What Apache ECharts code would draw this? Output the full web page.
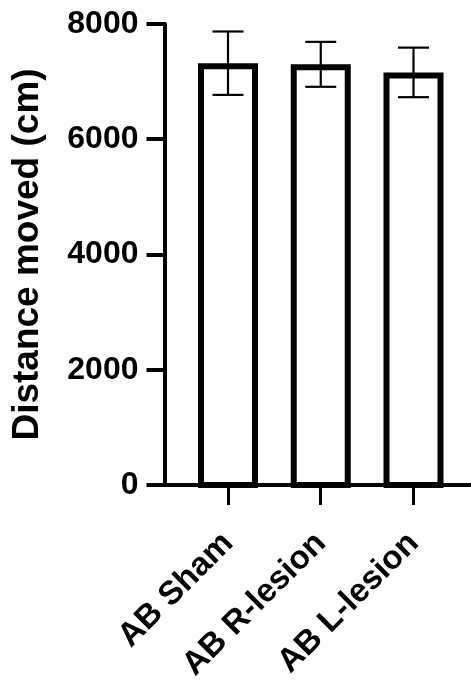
<!DOCTYPE html>
<html>
<head>
<meta charset="utf-8">
<script src="https://cdn.jsdelivr.net/npm/echarts@6/dist/echarts.min.js"></script>
<style>
  html, body { margin: 0; padding: 0; background: #ffffff; }
  #chart { width: 471px; height: 684px; }
</style>
</head>
<body>
<div id="chart"></div>
<script>
// Group labels, mean distance and SD per group
const categories = ['AB Sham', 'AB R-lesion', 'AB L-lesion'];
const means = [7320, 7300, 7160];
const sds = [550, 390, 430];
const yTicks = [0, 2000, 4000, 6000, 8000];
const yTitle = 'Distance moved (cm)';

const FONT = '"Liberation Sans", Arial, Helvetica, sans-serif';
const BAR_W = 60;      // outer bar width, px
const BORDER = 6;      // bar outline thickness, px
const CAP = 31;        // error bar cap width, px

const positions = categories.map((_, i) => i + 1);
const barData = positions.map((p, i) => [p, means[i]]);
const errData = positions.map((p, i) => [p, means[i] - sds[i], means[i] + sds[i]]);

const chart = echarts.init(document.getElementById('chart'), null, { renderer: 'canvas' });

chart.setOption({
  backgroundColor: '#ffffff',
  animation: false,
  grid: { left: 164.5, right: 0, top: 24, bottom: 199 },
  xAxis: {
    type: 'value',
    min: 0.3154,
    max: 3.62,
    splitLine: { show: false },
    axisLine: { show: true, onZero: false, lineStyle: { color: '#000', width: 4 } },
    axisTick: {
      show: true, customValues: positions, length: 20, inside: false,
      lineStyle: { color: '#000', width: 3 }
    },
    axisLabel: {
      show: true, customValues: positions, rotate: 45, margin: 53,
      formatter: v => categories[Math.round(v) - 1] || '',
      color: '#000', fontFamily: FONT, fontWeight: 'bold', fontSize: 33
    }
  },
  yAxis: {
    type: 'value',
    min: yTicks[0],
    max: yTicks[yTicks.length - 1],
    interval: 2000,
    name: yTitle,
    nameLocation: 'middle',
    nameRotate: 90,
    nameGap: 118,
    nameTextStyle: { color: '#000', fontFamily: FONT, fontWeight: 'bold', fontSize: 37 },
    splitLine: { show: false },
    axisLine: { show: true, lineStyle: { color: '#000', width: 4 } },
    axisTick: { show: true, length: 18, lineStyle: { color: '#000', width: 4 } },
    axisLabel: {
      margin: 26, color: '#000', fontFamily: FONT, fontWeight: 'bold', fontSize: 32,
      formatter: v => String(v)
    }
  },
  series: [
    {
      // open bars: outline drawn inside the bar footprint
      type: 'custom',
      data: barData,
      z: 2,
      renderItem: (params, api) => {
        const x = api.value(0);
        const top = api.coord([x, api.value(1)]);
        const base = api.coord([x, 0]);
        const h = BORDER / 2;
        return {
          type: 'rect',
          shape: {
            x: top[0] - BAR_W / 2 + h,
            y: top[1] + h,
            width: BAR_W - BORDER,
            height: base[1] - top[1] - h
          },
          style: { fill: '#ffffff', stroke: '#000000', lineWidth: BORDER }
        };
      }
    },
    {
      // mean ± SD error bars
      type: 'custom',
      data: errData,
      z: 3,
      renderItem: (params, api) => {
        const x = api.value(0);
        const lo = api.coord([x, api.value(1)]);
        const hi = api.coord([x, api.value(2)]);
        const st = { stroke: '#000000', lineWidth: 2.2 };
        return {
          type: 'group',
          children: [
            { type: 'line', shape: { x1: lo[0], y1: lo[1], x2: hi[0], y2: hi[1] }, style: st },
            { type: 'line', shape: { x1: hi[0] - CAP / 2, y1: hi[1], x2: hi[0] + CAP / 2, y2: hi[1] }, style: st },
            { type: 'line', shape: { x1: lo[0] - CAP / 2, y1: lo[1], x2: lo[0] + CAP / 2, y2: lo[1] }, style: st }
          ]
        };
      }
    }
  ]
});
</script>
</body>
</html>
